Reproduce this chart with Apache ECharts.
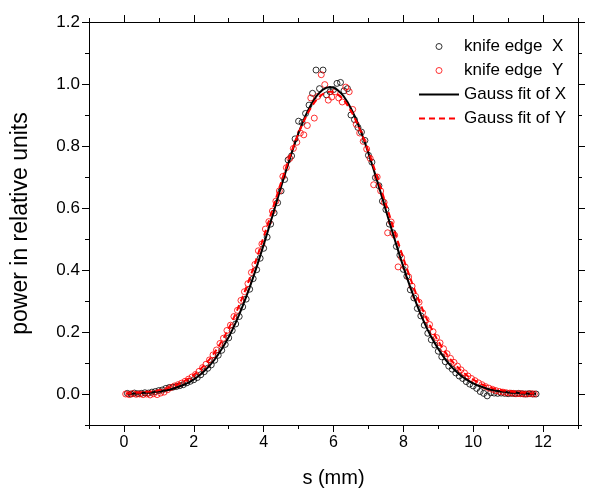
<!DOCTYPE html>
<html><head><meta charset="utf-8">
<script src="https://cdn.jsdelivr.net/npm/echarts@6/dist/echarts.min.js"></script>
<style>html,body{margin:0;padding:0;background:#fff}#c{width:593px;height:493px}</style>
</head><body><div id="c"></div>
<script>
// knife edge X measurement positions (mm)
const sX = [0.1,0.2,0.3,0.4,0.5,0.6,0.7,0.8,0.9,1.0,1.1,1.2,1.3,1.4,1.5,1.6,1.7,1.8,1.9,2.0,
2.1,2.2,2.3,2.4,2.5,2.6,2.7,2.8,2.9,3.0,3.1,3.2,3.3,3.4,3.5,3.6,3.7,3.8,3.9,4.0,
4.1,4.2,4.3,4.4,4.5,4.6,4.7,4.8,4.9,5.0,5.1,5.2,5.3,5.4,5.5,5.6,5.7,5.8,5.9,6.0,
6.1,6.2,6.3,6.4,6.5,6.6,6.7,6.8,6.9,7.0,7.1,7.2,7.3,7.4,7.5,7.6,7.7,7.8,7.9,8.0,
8.1,8.2,8.3,8.4,8.5,8.6,8.7,8.8,8.9,9.0,9.1,9.2,9.3,9.4,9.5,9.6,9.7,9.8,9.9,10.0,
10.1,10.2,10.3,10.4,10.5,10.6,10.7,10.8,10.9,11.0,11.1,11.2,11.3,11.4,11.5,11.6,11.7,11.8];
const knifeX = [0.002,0.000,0.003,0.001,0.002,0.004,0.003,0.006,0.008,0.011,
0.013,0.018,0.021,0.022,0.024,0.027,0.030,0.036,0.041,0.046,
0.053,0.062,0.072,0.083,0.094,0.109,0.125,0.141,0.160,0.181,
0.205,0.226,0.250,0.281,0.306,0.338,0.372,0.401,0.438,0.470,
0.506,0.548,0.584,0.617,0.655,0.692,0.755,0.768,0.823,0.880,
0.876,0.905,0.932,0.970,1.045,0.985,1.045,0.965,0.975,0.982,
1.002,1.005,0.978,0.985,0.900,0.885,0.860,0.845,0.818,0.770,
0.748,0.698,0.672,0.622,0.595,0.548,0.520,0.476,0.448,0.402,
0.380,0.336,0.310,0.276,0.252,0.222,0.196,0.175,0.158,0.138,
0.120,0.104,0.090,0.080,0.068,0.058,0.050,0.040,0.032,0.026,
0.018,0.008,0.002,-0.006,0.004,0.003,0.002,0.003,0.002,0.001,
0.002,0.001,0.002,0.001,0.000,0.001,0.000,0.000];
const fitX = [0.001,0.001,0.002,0.002,0.003,0.004,0.004,0.005,0.007,0.008,
0.010,0.012,0.014,0.017,0.021,0.025,0.029,0.034,0.040,0.047,
0.055,0.064,0.074,0.085,0.098,0.112,0.128,0.145,0.164,0.184,
0.206,0.230,0.256,0.284,0.313,0.344,0.376,0.410,0.445,0.481,
0.518,0.555,0.593,0.631,0.669,0.706,0.742,0.777,0.811,0.842,
0.871,0.898,0.921,0.942,0.959,0.972,0.982,0.988,0.990,0.988,
0.982,0.972,0.959,0.942,0.921,0.898,0.871,0.842,0.811,0.777,
0.742,0.706,0.669,0.631,0.593,0.555,0.518,0.481,0.445,0.410,
0.376,0.344,0.313,0.284,0.256,0.230,0.206,0.184,0.164,0.145,
0.128,0.112,0.098,0.085,0.074,0.064,0.055,0.047,0.040,0.034,
0.029,0.025,0.021,0.017,0.014,0.012,0.010,0.008,0.007,0.005,
0.004,0.004,0.003,0.002,0.002,0.001,0.001,0.001];
// knife edge Y measurement positions (mm)
const sY = [0.05,0.15,0.25,0.35,0.45,0.55,0.65,0.75,0.85,0.95,1.05,1.15,1.25,1.35,1.45,1.55,1.65,1.75,1.85,1.95,
2.05,2.15,2.25,2.35,2.45,2.55,2.65,2.75,2.85,2.95,3.05,3.15,3.25,3.35,3.45,3.55,3.65,3.75,3.85,3.95,
4.05,4.15,4.25,4.35,4.45,4.55,4.65,4.75,4.85,4.95,5.05,5.15,5.25,5.35,5.45,5.55,5.65,5.75,5.85,5.95,
6.05,6.15,6.25,6.35,6.45,6.55,6.65,6.75,6.85,6.95,7.05,7.15,7.25,7.35,7.45,7.55,7.65,7.75,7.85,7.95,
8.05,8.15,8.25,8.35,8.45,8.55,8.65,8.75,8.85,8.95,9.05,9.15,9.25,9.35,9.45,9.55,9.65,9.75,9.85,9.95,
10.05,10.15,10.25,10.35,10.45,10.55,10.65,10.75,10.85,10.95,11.05,11.15,11.25,11.35,11.45,11.55,11.65,11.75];
const knifeY = [0.000,-0.002,0.001,-0.001,0.000,-0.002,0.000,-0.003,0.001,-0.002,
0.003,0.006,0.014,0.021,0.026,0.030,0.035,0.041,0.048,0.055,
0.063,0.073,0.085,0.096,0.110,0.126,0.142,0.163,0.180,0.205,
0.222,0.250,0.270,0.302,0.330,0.356,0.392,0.418,0.462,0.484,
0.532,0.556,0.590,0.622,0.655,0.702,0.730,0.760,0.792,0.812,
0.842,0.836,0.866,0.955,0.890,0.960,1.030,0.998,0.948,0.958,
0.975,0.955,0.942,0.990,0.975,0.918,0.870,0.842,0.815,0.790,
0.760,0.675,0.700,0.655,0.618,0.520,0.555,0.512,0.410,0.440,
0.410,0.378,0.348,0.315,0.296,0.262,0.240,0.224,0.201,0.182,
0.165,0.146,0.130,0.115,0.102,0.090,0.078,0.068,0.058,0.050,
0.043,0.036,0.030,0.024,0.019,0.015,0.011,0.008,0.006,0.004,
0.003,0.002,0.001,0.001,0.000,0.000,0.001,0.000];
const fitY = [0.002,0.002,0.003,0.004,0.004,0.005,0.007,0.008,0.010,0.011,
0.014,0.016,0.019,0.023,0.027,0.031,0.037,0.043,0.050,0.057,
0.066,0.076,0.087,0.099,0.112,0.127,0.143,0.161,0.180,0.201,
0.223,0.247,0.273,0.300,0.328,0.358,0.389,0.421,0.455,0.489,
0.524,0.559,0.595,0.630,0.666,0.700,0.734,0.767,0.798,0.828,
0.855,0.880,0.903,0.923,0.940,0.954,0.964,0.971,0.975,0.975,
0.971,0.964,0.954,0.940,0.923,0.903,0.880,0.855,0.828,0.798,
0.767,0.734,0.700,0.666,0.630,0.595,0.559,0.524,0.489,0.455,
0.421,0.389,0.358,0.328,0.300,0.273,0.247,0.223,0.201,0.180,
0.161,0.143,0.127,0.112,0.099,0.087,0.076,0.066,0.057,0.050,
0.043,0.037,0.031,0.027,0.023,0.019,0.016,0.014,0.011,0.010,
0.008,0.007,0.005,0.004,0.004,0.003,0.002,0.002];
const xTickLabels = [0,2,4,6,8,10,12];
const yTickLabels = [0,0.2,0.4,0.6,0.8,1.0,1.2];
const seriesNames = ['knife edge  X','knife edge  Y','Gauss fit of X','Gauss fit of Y'];

const FONT = '"Liberation Sans", Arial, sans-serif';
const pair = (xs, ys) => xs.map((x, i) => [x, ys[i]]);
const black = '#000000', red = '#ff0000';

function xAx(position, major, showLabel) {
  const a = {
    type: 'value', min: -1, max: 13, interval: 1, position: position,
    splitLine: {show: false},
    axisLine: {show: !major, onZero: false, lineStyle: {color: black, width: 1}},
    axisTick: {show: true, inside: false, length: major ? 7 : 4, lineStyle: {color: black, width: 1}},
    axisLabel: {show: false}
  };
  if (major) a.axisTick.customValues = xTickLabels;
  if (showLabel) {
    a.axisLabel = {show: true, customValues: xTickLabels, fontSize: 16, color: black, fontFamily: FONT, margin: 10};
    a.name = 's (mm)'; a.nameLocation = 'middle'; a.nameGap = 43;
    a.nameTextStyle = {fontSize: 20, color: black, fontFamily: FONT};
  }
  return a;
}
function yAx(position, major, showLabel) {
  const a = {
    type: 'value', min: -0.1, max: 1.2, interval: 0.1, position: position,
    splitLine: {show: false},
    axisLine: {show: !major, onZero: false, lineStyle: {color: black, width: 1}},
    axisTick: {show: true, inside: false, length: major ? 7 : 4, lineStyle: {color: black, width: 1}},
    axisLabel: {show: false}
  };
  if (major) a.axisTick.customValues = yTickLabels;
  if (showLabel) {
    a.axisLabel = {show: true, customValues: yTickLabels, fontSize: 17, color: black, fontFamily: FONT, margin: 9,
      formatter: v => Number(v).toFixed(1)};
    a.name = 'power in relative units'; a.nameLocation = 'middle'; a.nameGap = 57;
    a.nameTextStyle = {fontSize: 23, color: black, fontFamily: FONT};
  }
  return a;
}

const chart = echarts.init(document.getElementById('c'), null, {renderer: 'canvas'});
chart.setOption({
  animation: false,
  backgroundColor: '#ffffff',
  grid: {left: 89, right: 15, top: 22, bottom: 67, containLabel: false},
  xAxis: [xAx('bottom', false, false), xAx('bottom', true, true), xAx('top', false, false), xAx('top', true, false)],
  yAxis: [yAx('left', false, false), yAx('left', true, true), yAx('right', false, false), yAx('right', true, false)],
  legend: {
    orient: 'vertical', left: 418, top: 38, padding: 0, itemWidth: 40, itemHeight: 6, itemGap: 7,
    selectedMode: false,
    data: [
      {name: seriesNames[0], itemStyle: {borderWidth: 1, color: 'rgba(0,0,0,0)', borderColor: black}},
      {name: seriesNames[1], itemStyle: {borderWidth: 1, color: 'rgba(0,0,0,0)', borderColor: red}},
      {name: seriesNames[2], itemStyle: {opacity: 0}},
      {name: seriesNames[3], itemStyle: {opacity: 0}}
    ],
    textStyle: {fontSize: 17, color: black, fontFamily: FONT}
  },
  series: [
    {name: seriesNames[0], type: 'scatter', xAxisIndex: 0, yAxisIndex: 0, data: pair(sX, knifeX),
     symbol: 'circle', symbolSize: 6, itemStyle: {color: 'rgba(0,0,0,0)', borderColor: black, borderWidth: 1}},
    {name: seriesNames[1], type: 'scatter', xAxisIndex: 0, yAxisIndex: 0, data: pair(sY, knifeY),
     symbol: 'circle', symbolSize: 6, itemStyle: {color: 'rgba(0,0,0,0)', borderColor: red, borderWidth: 1}},
    {name: seriesNames[2], type: 'line', xAxisIndex: 0, yAxisIndex: 0, data: pair(sX, fitX),
     symbol: 'none', showSymbol: false, itemStyle: {color: black}, lineStyle: {color: black, width: 2}},
    {name: seriesNames[3], type: 'line', xAxisIndex: 0, yAxisIndex: 0, data: pair(sY, fitY),
     symbol: 'none', showSymbol: false, itemStyle: {color: red}, lineStyle: {color: red, width: 2, type: [6, 4]}}
  ]
});
</script></body></html>
